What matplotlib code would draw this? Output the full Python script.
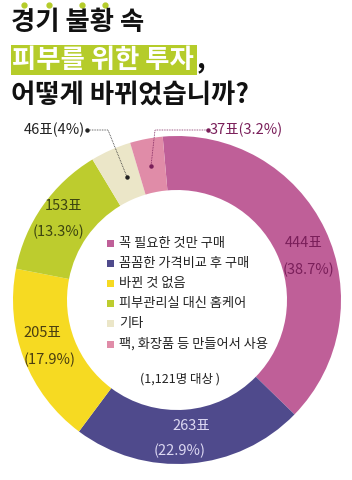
import matplotlib
matplotlib.use("Agg")
import matplotlib.pyplot as plt
from matplotlib.patches import Rectangle

plt.rcParams['font.family'] = ['Noto Sans CJK KR', 'DejaVu Sans']

categories = ["꼭 필요한 것만 구매", "꼼꼼한 가격비교 후 구매", "바뀐 것 없음",
              "피부관리실 대신 홈케어", "기타", "팩, 화장품 등 만들어서 사용"]
votes = [444, 263, 205, 153, 46, 37]
percents = ["38.7%", "22.9%", "17.9%", "13.3%", "4%", "3.2%"]
colors = ["#bf5f98", "#4f4a8c", "#f6da22", "#bdcc2e", "#ebe6c8", "#e08ca8"]
title_lines = ["경기 불황 속", "피부를 위한 투자", "어떻게 바뀌었습니까?"]
note = "(1,121명 대상 )"

W, H = 352, 480
fig = plt.figure(figsize=(W / 100, H / 100), dpi=100)
ax = fig.add_axes([0, 0, 1, 1])

def Y(y):
    return H - y

cx, cy, R, width = 177, 300, 164, 54
ax.pie(votes, colors=colors, startangle=95, counterclock=False,
       center=(cx, Y(cy)), radius=R,
       wedgeprops=dict(width=width, linewidth=0))
ax.set_xlim(0, W)
ax.set_ylim(0, H)
ax.set_aspect('equal')
ax.axis('off')

# Title
tfs = 19
ax.text(11, Y(22), title_lines[0], fontsize=tfs, fontweight='bold', color='#111111',
        va='center', ha='left')
for dx in [24, 49, 82, 105]:
    ax.plot(dx, Y(5), 'o', color='#b5cc2a', markersize=3.5)
ax.add_patch(Rectangle((11, Y(75)), 186, 30, color='#b5cc2a', linewidth=0))
ax.text(12, Y(60), title_lines[1], fontsize=tfs, fontweight='bold', color='white',
        va='center', ha='left')
ax.text(197, Y(60), ",", fontsize=tfs, fontweight='bold', color='#111111',
        va='center', ha='left')
ax.text(11, Y(95), title_lines[2], fontsize=tfs, fontweight='bold', color='#111111',
        va='center', ha='left')

# Slice labels
lab_fs = 10.5
def slab(x, y1, y2, i, color):
    ax.text(x[0], Y(y1), f"{votes[i]}표", fontsize=lab_fs, color=color,
            ha='center', va='center', fontweight='light')
    ax.text(x[1], Y(y2), f"({percents[i]})", fontsize=lab_fs, color=color,
            ha='center', va='center', fontweight='light')

slab((304, 308), 243, 270, 0, '#7a1f5a')
slab((191, 180), 426, 451, 1, '#dcd8f2')
slab((42, 50), 333, 360, 2, '#4a3e10')
slab((64, 58), 206, 232, 3, '#3d4510')

# Callouts
ax.text(85, Y(130), f"{votes[4]}표({percents[4]})", fontsize=lab_fs, color='#222222',
        ha='right', va='center', fontweight='light')
ax.plot([87, 108, 127], [Y(130), Y(130), Y(177)], ls=(0, (1, 1)), lw=0.6, color='#333333')
ax.plot([87, 127], [Y(130), Y(177)], 'o', ls='none', color='#222222', markersize=2.2)

ax.text(210, Y(130), f"{votes[5]}표({percents[5]})", fontsize=lab_fs, color='#7a1f5a',
        ha='left', va='center', fontweight='light')
ax.plot([208, 155, 151], [Y(130), Y(130), Y(166)], ls=(0, (1, 1)), lw=0.6, color='#7a1f5a')
ax.plot([208, 151], [Y(130), Y(166)], 'o', ls='none', color='#7a1f5a', markersize=2.2)

# Legend
ys = [243, 263, 283, 303, 323, 344]
for c, name, y in zip(colors, categories, ys):
    ax.add_patch(Rectangle((107, Y(y) - 3.5), 7, 7, color=c, linewidth=0))
    ax.text(119, Y(y), name, fontsize=9.5, color='#222222', ha='left', va='center')

ax.text(140, Y(379), note, fontsize=9, color='#222222', ha='left', va='center')

fig.savefig("out.png", dpi=100)
